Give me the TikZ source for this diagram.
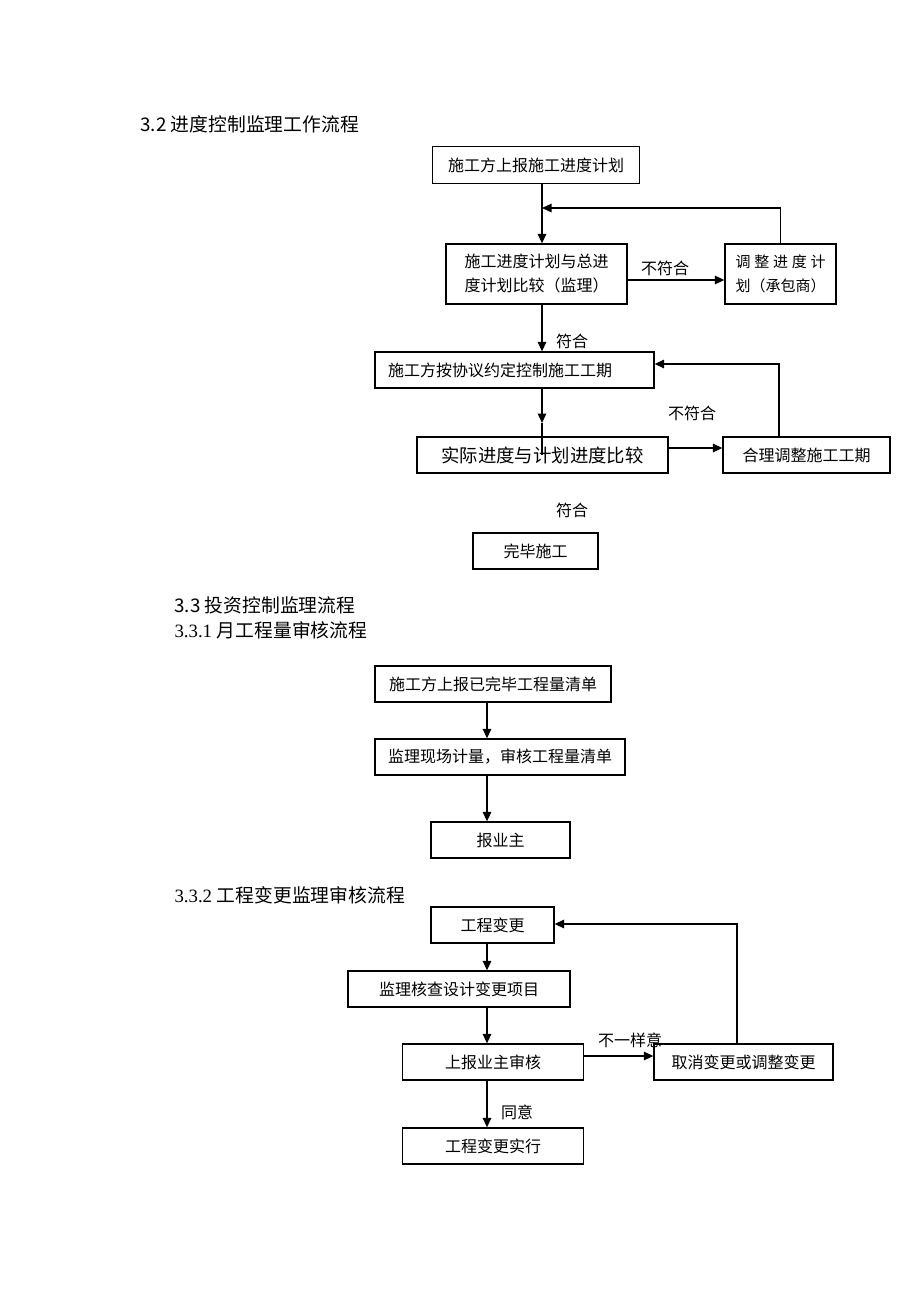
\documentclass[tikz,border=0pt]{standalone}
\usepackage{fontspec}
\setmainfont{Liberation Serif}
\newfontfamily\cjk{Noto Sans CJK SC}
\usetikzlibrary{arrows.meta}
\tikzset{%
  >={Triangle[width=8.5pt,length=9.5pt]},
  % Specifications for style of nodes:
          base/.style = {rectangle, draw=black, line width=1.3pt,
                         inner sep=0pt, minimum height=36pt,
                         text centered, align=center,
                         font=\cjk\fontsize{16}{24}\selectfont},
     twolines/.style = {base, minimum height=60pt},
       remark/.style = {font=\cjk\fontsize{16}{19}\selectfont},
      heading/.style = {anchor=west, font=\cjk\fontsize{18.8}{22}\selectfont},
   subheading/.style = {anchor=west, font=\rmfamily\fontsize{18.8}{22}\selectfont},
         flow/.style = {->, line width=1.4pt},
        plain/.style = {line width=1.4pt},
}

\begin{document}
\begin{tikzpicture}[x=1pt, y=-1pt]
  \path[fill=white] (0,0) rectangle (920,1302);
  \useasboundingbox (0,0) rectangle (920,1302);

  % 3.2 progress control
  \node (head32)  [heading] at (137,124) {3.2 进度控制监理工作流程};
  \node (report)  [base, minimum width=207pt, minimum height=37pt] at (536,165)
        {施工方上报施工进度计划};
  \node (compare) [twolines, minimum width=181pt] at (536.5,274)
        {施工进度计划与总进\\度计划比较（监理）};
  \node (revise)  [twolines, minimum width=111pt,
                   font=\cjk\fontsize{15}{24}\selectfont] at (780.5,274)
        {\makebox[90pt][s]{调\hfil 整\hfil 进\hfil 度\hfil 计}\\划（承包商）};
  \node (control) [base, minimum width=279pt, text width=253pt, align=left]
        at (514.5,370) {施工方按协议约定控制施工工期};
  \node (actual)  [base, minimum width=251pt,
                   font=\cjk\fontsize{18.4}{22}\selectfont] at (542.5,455)
        {实际进度与计划进度比较};
  \node (adjust)  [base, minimum width=167pt] at (806.5,455) {合理调整施工工期};
  \node (finish)  [base, minimum width=125pt] at (535.5,551) {完毕施工};

  \node (noA)  [remark] at (665,268) {不符合};
  \node (yesA) [remark] at (572,341) {符合};
  \node (noB)  [remark] at (692,413) {不符合};
  \node (yesB) [remark] at (572,510) {符合};

  \coordinate (spineA) at (542,0);
  \coordinate (mergeA) at (542,208);
  \coordinate (tipD)   at (542,423);
  \coordinate (riseF)  at (779,0);

  \draw[flow] (report.south -| spineA) -- (compare.north -| spineA);
  \draw[flow] (compare.south -| spineA) -- (control.north -| spineA);
  \draw[flow] ([yshift=-6pt]compare.east) -- ([yshift=-6pt]revise.west);
  \draw[flow] (revise.north) |- (mergeA);
  \draw[flow] (control.south -| spineA) -- (tipD);
  \draw[plain] (tipD) -- (actual.center -| spineA);
  \draw[flow] ([yshift=7pt]actual.east) -- ([yshift=7pt]adjust.west);
  \draw[flow] (adjust.north -| riseF) |- ([yshift=6pt]control.east);

  % 3.3 investment control
  \node (head33)  [heading] at (171,605) {3.3 投资控制监理流程};
  \node (head331) [subheading] at (171,630) {3.3.1 {\cjk 月工程量审核流程}};
  \node (listed)  [base, minimum width=236pt] at (493,684) {施工方上报已完毕工程量清单};
  \node (measure) [base, minimum width=250pt] at (500,757) {监理现场计量，审核工程量清单};
  \node (owner)   [base, minimum width=139pt] at (500.5,840) {报业主};

  \coordinate (spineB) at (487,0);

  \draw[flow] (listed.south -| spineB) -- (measure.north -| spineB);
  \draw[flow] (measure.south -| spineB) -- (owner.north -| spineB);

  % 3.3.2 design change
  \node (head332) [subheading] at (171,895) {3.3.2 {\cjk 工程变更监理审核流程}};
  \node (disagree) [remark] at (630,1040) {不一样意};
  \node (change)  [base, minimum width=123pt] at (492.5,925) {工程变更};
  \node (check)   [base, minimum width=222pt] at (459,989) {监理核查设计变更项目};
  \node (submit)  [base, minimum width=181pt] at (493,1062) {上报业主审核};
  \node (cancel)  [base, minimum width=179pt] at (743.5,1062) {取消变更或调整变更};
  \node (execute) [base, minimum width=181pt] at (493,1146) {工程变更实行};
  \node (agree)   [remark] at (517,1112) {同意};

  \coordinate (riseN) at (737,0);

  \draw[flow] (change.south -| spineB) -- (check.north -| spineB);
  \draw[flow] (check.south -| spineB) -- (submit.north -| spineB);
  \draw[flow] (submit.south -| spineB) -- (execute.north -| spineB);
  \draw[flow] ([yshift=6pt]submit.east) -- ([yshift=6pt]cancel.west);
  \draw[flow] (cancel.north -| riseN) |- ([yshift=1pt]change.east);
\end{tikzpicture}
\end{document}
